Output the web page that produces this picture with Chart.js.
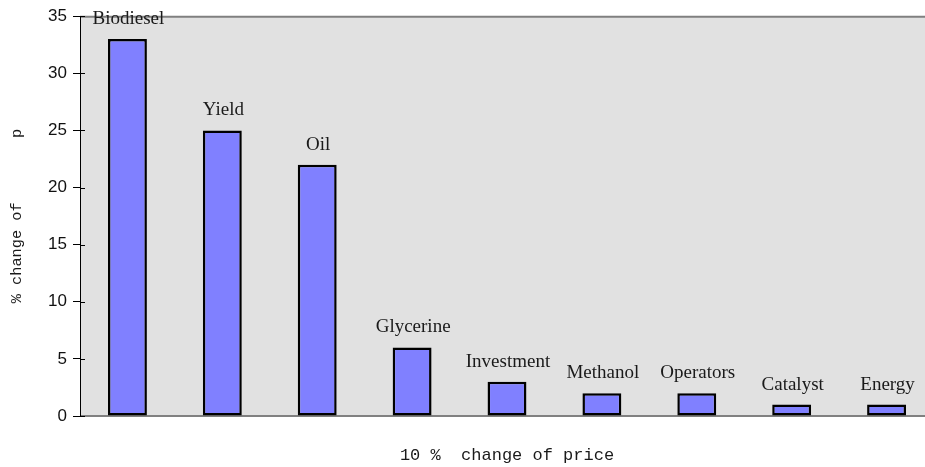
<!DOCTYPE html>
<html>
<head>
<meta charset="utf-8">
<title>Sensitivity of p to a 10 % price change</title>
<script src="https://cdn.jsdelivr.net/npm/chart.js@4/dist/chart.umd.min.js"></script>
<style>
  html, body { margin: 0; padding: 0; background: #fff; overflow: hidden; }
  canvas { display: block; }
</style>
</head>
<body>
<canvas id="chart" width="935" height="467"></canvas>
<script>
// Cost / revenue items and the % change of p caused by a 10 % change of their price
const categories = ['Biodiesel', 'Yield', 'Oil', 'Glycerine', 'Investment', 'Methanol', 'Operators', 'Catalyst', 'Energy'];
const changeOfP = [33, 25, 22, 6, 3, 2, 2, 1, 1];
const yTicks = [0, 5, 10, 15, 20, 25, 30, 35];

const MONO = '"Liberation Mono", "DejaVu Sans Mono", monospace';
const SERIF = '"Liberation Serif", "DejaVu Serif", serif';

// Grey plot panel with its frame lines and inner tick stubs
const panel = {
  id: 'panel',
  beforeDatasetsDraw(chart) {
    const { ctx, chartArea: a, scales: { y } } = chart;
    ctx.save();
    ctx.fillStyle = '#e1e1e1';
    ctx.fillRect(a.left, a.top, a.right - a.left, a.bottom - a.top);
    ctx.strokeStyle = '#808080';
    ctx.lineWidth = 2;
    ctx.beginPath();
    ctx.moveTo(a.left, a.top + 0.5); ctx.lineTo(a.right, a.top + 0.5);
    ctx.moveTo(a.left, a.bottom); ctx.lineTo(a.right, a.bottom);
    ctx.stroke();
    ctx.strokeStyle = '#000';
    ctx.lineWidth = 1;
    ctx.beginPath();
    yTicks.forEach(v => {
      const py = Math.round(y.getPixelForValue(v)) + 0.5;
      ctx.moveTo(a.left, py); ctx.lineTo(a.left + 5, py);
    });
    ctx.moveTo(a.left + 0.5, a.top); ctx.lineTo(a.left + 0.5, a.bottom);
    ctx.stroke();
    ctx.restore();
  }
};

// Category name written above each bar
const barNames = {
  id: 'barNames',
  afterDatasetsDraw(chart) {
    const { ctx } = chart;
    const meta = chart.getDatasetMeta(0);
    ctx.save();
    ctx.fillStyle = '#1a1a1a';
    ctx.font = '19px ' + SERIF;
    ctx.textAlign = 'center';
    ctx.textBaseline = 'middle';
    meta.data.forEach((bar, i) => {
      ctx.fillText(categories[i], bar.x + 1, bar.y - 20);
    });
    ctx.restore();
  }
};

new Chart(document.getElementById('chart'), {
  type: 'bar',
  data: {
    labels: categories,
    datasets: [{
      data: changeOfP,
      backgroundColor: '#8080ff',
      borderColor: '#000',
      borderWidth: 2.5,
      borderSkipped: false,
      barPercentage: 0.41,
      categoryPercentage: 1
    }]
  },
  options: {
    responsive: false,
    animation: false,
    layout: { padding: { top: 15, right: 1, left: 0, bottom: 0 } },
    plugins: { legend: { display: false }, tooltip: { enabled: false } },
    scales: {
      x: {
        type: 'category',
        offset: true,
        grid: { display: false },
        border: { display: false },
        ticks: { display: false },
        title: {
          display: true,
          text: '10 %  change of price',
          color: '#1a1a1a',
          font: { family: MONO, size: 17 },
          padding: { top: 0, bottom: 1 }
        },
        afterFit(scale) { scale.height = 51; }
      },
      y: {
        min: 0,
        max: 35,
        afterBuildTicks(scale) { scale.ticks = yTicks.map(v => ({ value: v })); },
        grid: { drawOnChartArea: false, drawTicks: true, tickLength: 7, color: '#000' },
        border: { display: false },
        ticks: {
          color: '#111',
          padding: 6,
          font: { family: '"Liberation Sans", Arial, sans-serif', size: 17 }
        },
        title: {
          display: true,
          text: '% change of       p',
          color: '#1a1a1a',
          font: { family: MONO, size: 15.3 },
          padding: { top: 8, bottom: 0 }
        },
        afterFit(scale) { scale.width = 80; }
      }
    }
  },
  plugins: [panel, barNames]
});
</script>
</body>
</html>
